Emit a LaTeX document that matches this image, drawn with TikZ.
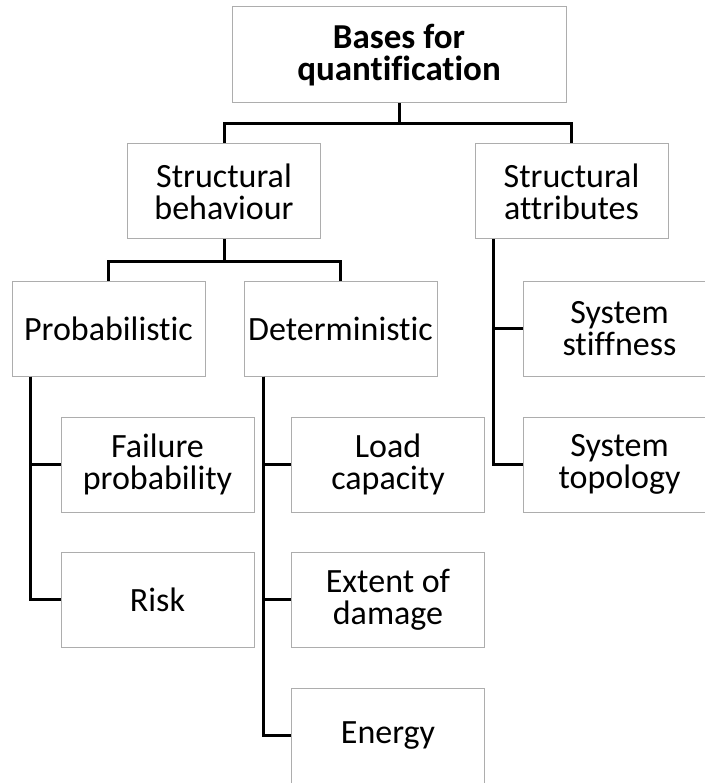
\documentclass[tikz,border=0pt]{standalone}
\usepackage{fontspec}
\setmainfont{Carlito}[Ligatures={NoCommon,NoRequired,NoContextual}]
\begin{document}
\begin{tikzpicture}[x=1pt,y=-1pt,
  box/.style={draw=black!32, line width=1pt, fill=white, rectangle,
    minimum width=193pt, minimum height=95pt, inner sep=0pt, align=center,
    font=\fontsize{34}{32}\selectfont},
  rootbox/.style={box, minimum width=334pt, minimum height=96pt,
    font=\fontsize{35}{32}\selectfont\bfseries},
  conn/.style={draw=black, line width=3pt, line join=miter}]
\useasboundingbox (0,0) rectangle (704,783);
\fill[white] (0,0) rectangle (704,783);

% tree nodes
\node[rootbox] (root) at (399,55)    {Bases for\\quantification};
\node[box] (sb)    at (224,191.5)   {Structural\\behaviour};
\node[box] (sa)    at (571.5,191.5) {Structural\\attributes};
\node[box] (prob)  at (108.5,328.5) {Probabilistic};
\node[box] (det)   at (340.5,328.5) {Deterministic};
\node[box] (fail)  at (157.5,464.5) {Failure\\probability};
\node[box] (risk)  at (157.5,599.5) {Risk};
\node[box] (load)  at (388,464.5)   {Load\\capacity};
\node[box] (ext)   at (388,599.5)   {Extent of\\damage};
\node[box] (enr)   at (388,735.5)   {Energy};
\node[box] (stiff) at (619.5,328.5) {System\\stiffness};
\node[box] (topo)  at (619.5,464.5) {System\\topology};

% branch points (shifts are in page units, so downward is negative)
\coordinate (rj) at ([yshift=-20pt]root.south);
\coordinate (sbj) at ([yshift=-22pt]sb.south);
\coordinate (pj) at ([xshift=19pt]prob.south west);
\coordinate (dj) at ([xshift=20pt]det.south west);
\coordinate (aj) at ([xshift=19pt]sa.south west);

% connectors
\draw[conn] (root.south) -- (rj) -| (sb.north);
\draw[conn] (rj) -| (sa.north);
\draw[conn] (sb.south) -- (sbj) -| (prob.north);
\draw[conn] (sbj) -| (det.north);
\draw[conn] (pj) |- (fail.west);
\draw[conn] (pj) |- (risk.west);
\draw[conn] (dj) |- (load.west);
\draw[conn] (dj) |- (ext.west);
\draw[conn] (dj) |- (enr.west);
\draw[conn] (aj) |- (stiff.west);
\draw[conn] (aj) |- (topo.west);
\end{tikzpicture}
\end{document}
